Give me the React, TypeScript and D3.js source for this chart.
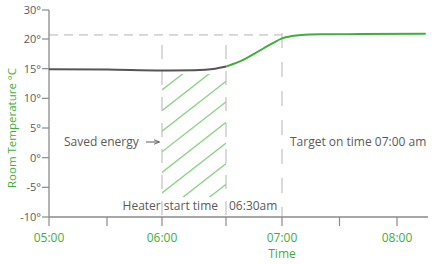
import React from "react";
import * as d3 from "d3";

const times = ["05:00", "05:30", "06:00", "06:15", "06:25", "06:30", "06:40", "06:45", "06:50", "06:55", "07:00", "07:05", "07:10", "07:20", "07:40", "08:15"];
const temps = [14.9, 14.85, 14.7, 14.75, 15.0, 15.35, 16.6, 17.5, 18.4, 19.3, 20.2, 21.0, 21.4, 21.6, 21.7, 21.8];
const heaterIndex = 5; // 06:30 start of heating (green part)
const xTicks = ["05:00", "05:30", "06:00", "06:30", "07:00", "07:30", "08:00"];
const xLabels = ["05:00", "", "06:00", "", "07:00", "", "08:00"];
const yTicks = [-10, -5, 0, 5, 10, 15, 20, 30];
const targetTemp = 21.4;
const markerTimes = ["06:00", "06:30", "07:00"];

const parse = d3.timeParse("%H:%M");

export default function App() {
  const W = 432, H = 264;
  const x = d3
    .scaleTime()
    .domain(["05:00", "05:30", "06:00", "06:30", "07:00", "08:00"].map((t) => parse(t)!))
    .range([49, 107, 162, 226, 282, 397]);
  const y = d3.scaleLinear().domain([-10, 20, 30]).range([217, 39, 10]);
  const pts = times.map((t, i) => [x(parse(t)!), y(temps[i])] as [number, number]);
  const line = d3.line().curve(d3.curveMonotoneX);
  const gray = line(pts.slice(0, heaterIndex + 1))!;
  const green = line(pts.slice(heaterIndex))!;
  const font = "'Open Sans', sans-serif";
  const axisGray = "#8a8a8a";
  const textGray = "#5a5a5a";
  const greenC = "#3fae3a";
  const lightGreen = "#8fd38a";

  const x6 = x(parse(markerTimes[0])!);
  const x630 = x(parse(markerTimes[1])!);
  const x7 = x(parse(markerTimes[2])!);
  const yTarget = y(targetTemp);

  const hatchTop = 74, hatchBottom = 197;
  const hatchLines: number[] = [];
  for (let c = 90; c <= 245; c += 20.6) hatchLines.push(c);

  return (
    <svg width={W} height={H} style={{ position: "absolute", left: 0, top: 0 }}>
      <defs>
        <clipPath id="hatchClip">
          <rect x={x6} y={hatchTop} width={x630 - x6} height={hatchBottom - hatchTop} />
        </clipPath>
        <marker id="arr" viewBox="0 0 10 10" refX="9" refY="5" markerWidth="6" markerHeight="6" orient="auto">
          <path d="M0,1 L10,5 L0,9" fill="none" stroke={textGray} strokeWidth={1.5} />
        </marker>
      </defs>
      {/* hatch */}
      <g clipPath="url(#hatchClip)">
        {hatchLines.map((c, i) => (
          <line key={i} x1={x6} y1={c} x2={x630 + 2} y2={c - 0.78 * (x630 + 2 - x6)} stroke={lightGreen} strokeWidth={1.4} />
        ))}
      </g>
      {/* dashed guides */}
      <line x1={49} x2={x7} y1={yTarget} y2={yTarget} stroke="#b5b5b5" strokeWidth={1} strokeDasharray="9,6" />
      <line x1={x6} x2={x6} y1={45} y2={217} stroke="#b5b5b5" strokeWidth={1} strokeDasharray="14,12" />
      <line x1={x630} x2={x630} y1={45} y2={217} stroke="#b5b5b5" strokeWidth={1} strokeDasharray="14,12" />
      <line x1={x7} x2={x7} y1={33} y2={217} stroke="#b5b5b5" strokeWidth={1} strokeDasharray="15,14" />
      {/* axes */}
      <line x1={49} x2={49} y1={10} y2={217} stroke={axisGray} strokeWidth={1.3} />
      <line x1={49} x2={428} y1={217} y2={217} stroke={axisGray} strokeWidth={1.3} />
      {yTicks.map((t) => (
        <g key={t} transform={`translate(0,${y(t)})`}>
          <line x1={42} x2={49} stroke={axisGray} strokeWidth={1.2} />
          <text x={41} dy="0.35em" textAnchor="end" fontFamily={font} fontSize={11} fill={textGray}>{`${t}°`}</text>
        </g>
      ))}
      {xTicks.map((t, i) => (
        <g key={t} transform={`translate(${x(parse(t)!)},0)`}>
          <line y1={217} y2={226} stroke={axisGray} strokeWidth={1.2} />
          {xLabels[i] && (
            <text y={242} textAnchor="middle" fontFamily={font} fontSize={12} fill={greenC}>{xLabels[i]}</text>
          )}
        </g>
      ))}
      <text x={282} y={258} textAnchor="middle" fontFamily={font} fontSize={12} fill={greenC}>Time</text>
      <text transform="translate(16,128) rotate(-90)" textAnchor="middle" fontFamily={font} fontSize={11.5} fill={greenC}>Room Temperature °C</text>
      {/* curve */}
      <path d={gray} fill="none" stroke="#555" strokeWidth={2} />
      <path d={green} fill="none" stroke={greenC} strokeWidth={2} />
      {/* annotations */}
      <text x={64} y={146} fontFamily={font} fontSize={12} fill={textGray}>Saved energy</text>
      <line x1={146} x2={159} y1={142} y2={142} stroke={textGray} strokeWidth={1} markerEnd="url(#arr)" />
      <text x={218} y={210} textAnchor="end" fontFamily={font} fontSize={12} fill={textGray}>Heater start time</text>
      <text x={229} y={210} fontFamily={font} fontSize={12} fill={textGray}>06:30am</text>
      <text x={290} y={146} fontFamily={font} fontSize={12} fill={textGray}>Target on time 07:00 am</text>
    </svg>
  );
}
